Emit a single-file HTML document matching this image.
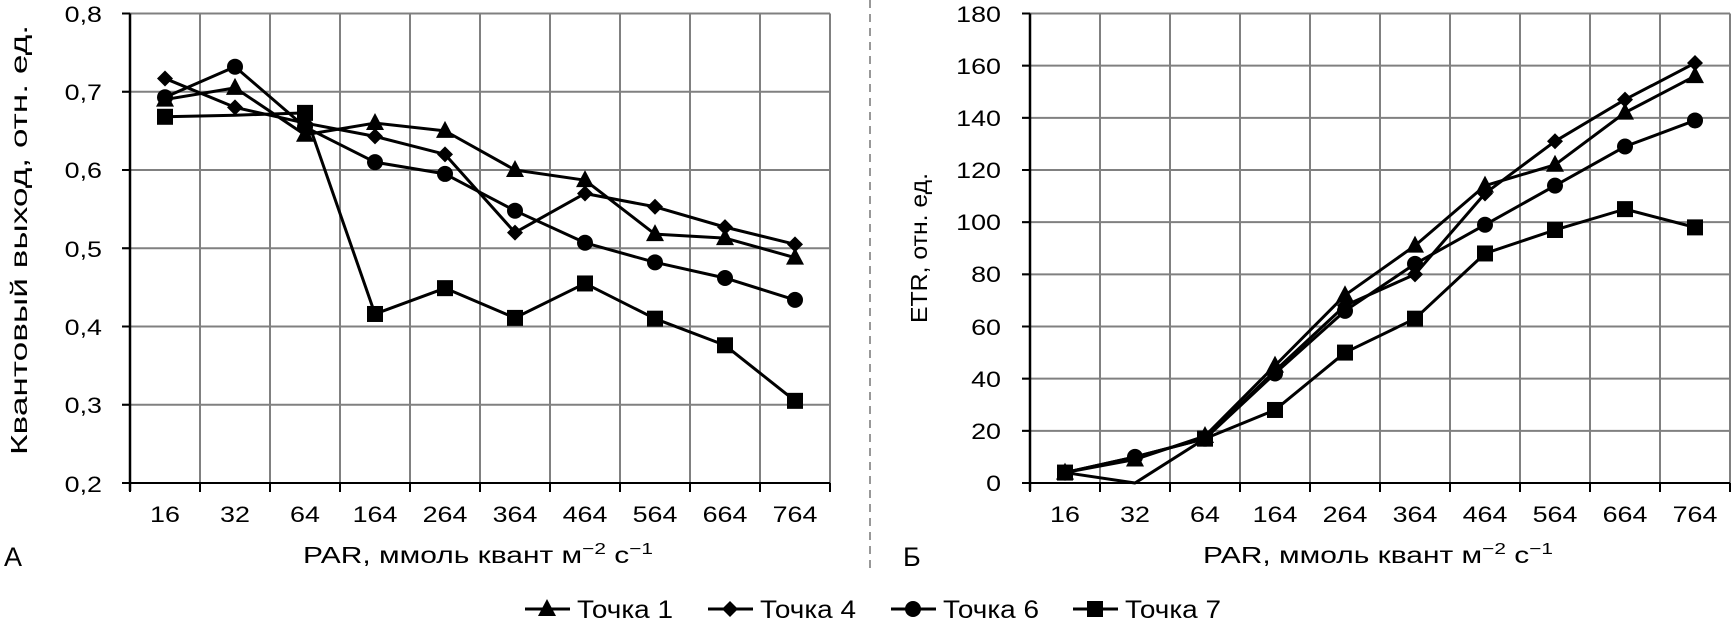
<!DOCTYPE html>
<html><head><meta charset="utf-8"><style>
html,body{margin:0;padding:0;background:#fff;}
svg{display:block;font-family:"Liberation Sans",sans-serif;}
</style></head><body>
<svg id="s" width="1732" height="621" viewBox="0 0 1732 621" xmlns="http://www.w3.org/2000/svg">
<g id="grid"></g>
<g id="series"></g>
<g font-size="22" fill="#000" class="tk">
<text x="102" y="22" text-anchor="end">0,8</text>
<text x="102" y="100" text-anchor="end">0,7</text>
<text x="102" y="178" text-anchor="end">0,6</text>
<text x="102" y="257" text-anchor="end">0,5</text>
<text x="102" y="335" text-anchor="end">0,4</text>
<text x="102" y="413" text-anchor="end">0,3</text>
<text x="102" y="492" text-anchor="end">0,2</text>
<text x="1001" y="22" text-anchor="end">180</text>
<text x="1001" y="74" text-anchor="end">160</text>
<text x="1001" y="126" text-anchor="end">140</text>
<text x="1001" y="178" text-anchor="end">120</text>
<text x="1001" y="230" text-anchor="end">100</text>
<text x="1001" y="282" text-anchor="end">80</text>
<text x="1001" y="335" text-anchor="end">60</text>
<text x="1001" y="387" text-anchor="end">40</text>
<text x="1001" y="439" text-anchor="end">20</text>
<text x="1001" y="491" text-anchor="end">0</text>
</g>
<g font-size="22" text-anchor="middle" id="xl"></g>
<text x="478" y="563" font-size="23" text-anchor="middle" textLength="350" lengthAdjust="spacingAndGlyphs">PAR, ммоль квант м<tspan dy="-9" font-size="16">−2</tspan><tspan dy="9"> с</tspan><tspan dy="-9" font-size="16">−1</tspan></text>
<text x="1378" y="563" font-size="23" text-anchor="middle" textLength="350" lengthAdjust="spacingAndGlyphs">PAR, ммоль квант м<tspan dy="-9" font-size="16">−2</tspan><tspan dy="9"> с</tspan><tspan dy="-9" font-size="16">−1</tspan></text>
<text x="4" y="566" font-size="27">А</text>
<text x="903" y="566" font-size="27">Б</text>
<text transform="translate(27,240) rotate(-90)" font-size="23" text-anchor="middle" textLength="430" lengthAdjust="spacingAndGlyphs">Квантовый выход, отн. ед.</text>
<text transform="translate(927,248) rotate(-90)" font-size="23" text-anchor="middle" textLength="150" lengthAdjust="spacingAndGlyphs">ETR, отн. ед.</text>
<line x1="870" y1="0" x2="870" y2="572" stroke="#777" stroke-width="1.5" stroke-dasharray="8,6"/>
<g id="leg"></g>
<g font-size="25">
<text x="577" y="618" textLength="96" lengthAdjust="spacingAndGlyphs">Точка 1</text>
<text x="760" y="618" textLength="96" lengthAdjust="spacingAndGlyphs">Точка 4</text>
<text x="943" y="618" textLength="96" lengthAdjust="spacingAndGlyphs">Точка 6</text>
<text x="1125" y="618" textLength="96" lengthAdjust="spacingAndGlyphs">Точка 7</text>
</g>
</svg>
<script>
(function(){
const NS="http://www.w3.org/2000/svg";
function el(p,t,a){const e=document.createElementNS(NS,t);for(const k in a)e.setAttribute(k,a[k]);p.appendChild(e);return e;}
const grid=document.getElementById('grid'),ser=document.getElementById('series'),xl=document.getElementById('xl'),leg=document.getElementById('leg');
const yTop=13.5,bot=483,cats=["16","32","64","164","264","364","464","564","664","764"];
function chart(x0,nY){
  for(let i=1;i<=10;i++){el(grid,'line',{x1:x0+70*i,y1:yTop,x2:x0+70*i,y2:bot,stroke:'#808080','stroke-width':2});}
  for(let j=0;j<nY;j++){const y=yTop+(bot-yTop)*j/(nY-1);el(grid,'line',{x1:x0-8,y1:y,x2:x0+700,y2:y,stroke:j==nY-1?'#000':'#808080','stroke-width':2});
    el(grid,'line',{x1:x0-8,y1:y,x2:x0,y2:y,stroke:'#000','stroke-width':2});}
  el(grid,'line',{x1:x0,y1:yTop,x2:x0,y2:bot+8,stroke:'#000','stroke-width':2.5});
  for(let i=0;i<=10;i++)el(grid,'line',{x1:x0+70*i,y1:bot,x2:x0+70*i,y2:bot+9,stroke:'#000','stroke-width':2});
  cats.forEach((c,i)=>{const t=el(xl,'text',{x:x0+35+70*i,y:522});t.textContent=c;});
}
chart(130,7);chart(1030,10);
function marker(type,x,y,g){
  if(type=='t')el(g,'polygon',{points:`${x},${y-10} ${x+9},${y+7} ${x-9},${y+7}`});
  if(type=='d')el(g,'polygon',{points:`${x},${y-8} ${x+8},${y} ${x},${y+8} ${x-8},${y}`});
  if(type=='c')el(g,'circle',{cx:x,cy:y,r:8});
  if(type=='s')el(g,'rect',{x:x-8,y:y-8,width:16,height:16});
}
function series(x0,vals,ymin,ymax,type,skip){
  const g=el(ser,'g',{fill:'#000'});
  const pts=vals.map((v,i)=>[x0+35+70*i,bot-(v-ymin)/(ymax-ymin)*(bot-yTop)]);
  el(g,'polyline',{points:pts.map(p=>p.join(',')).join(' '),fill:'none',stroke:'#000','stroke-width':3,'stroke-linejoin':'round'});
  pts.forEach((p,i)=>{if(!(skip&&skip.includes(i)))marker(type,p[0],p[1],g);});
}
series(130,[0.69,0.705,0.645,0.66,0.65,0.60,0.587,0.518,0.513,0.488],0.2,0.8,'t');
series(130,[0.717,0.68,0.66,0.643,0.62,0.52,0.57,0.553,0.527,0.505],0.2,0.8,'d');
series(130,[0.693,0.732,0.655,0.61,0.595,0.548,0.507,0.482,0.462,0.434],0.2,0.8,'c');
series(130,[0.668,0.67,0.673,0.416,0.449,0.411,0.455,0.41,0.376,0.305],0.2,0.8,'s',[1]);
series(1030,[4,9,18,45,72,91,114,122,142,156],0,180,'t');
series(1030,[4,10,17,43,68,80,111,131,147,161],0,180,'d');
series(1030,[4,10,17,42,66,84,99,114,129,139],0,180,'c');
series(1030,[4,0,17,28,50,63,88,97,105,98],0,180,'s',[1]);
[[525,'t'],[708,'d'],[891,'c'],[1073,'s']].forEach(([x,t])=>{const g=el(leg,'g',{fill:'#000'});
  el(g,'line',{x1:x,y1:609,x2:x+45,y2:609,stroke:'#000','stroke-width':3});marker(t,x+22,609,g);});
try{
  document.querySelectorAll('.tk text, #xl text').forEach(t=>{
    const w=t.getComputedTextLength();t.setAttribute('textLength',(w*1.22).toFixed(1));t.setAttribute('lengthAdjust','spacingAndGlyphs');});
}catch(e){}
})();
</script>
</body></html>
